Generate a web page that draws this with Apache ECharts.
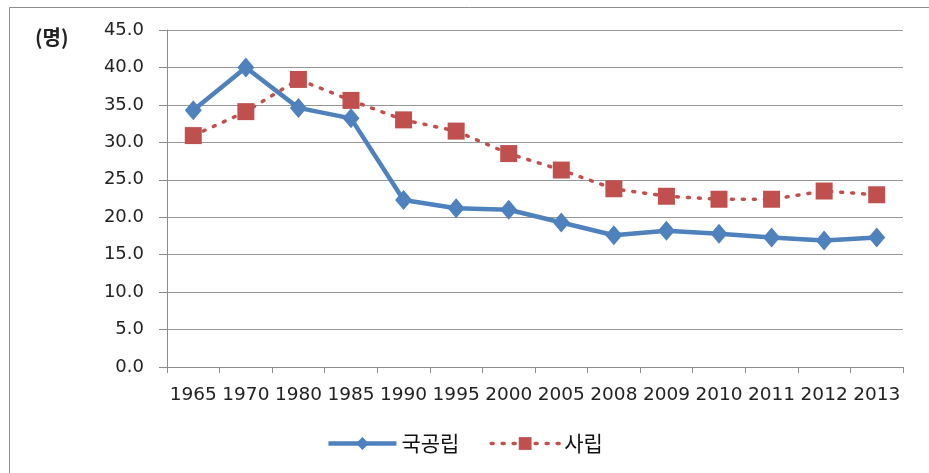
<!DOCTYPE html>
<html><head><meta charset="utf-8">
<script src="https://cdn.jsdelivr.net/npm/echarts@6/dist/echarts.min.js"></script>
<style>html,body{margin:0;padding:0;background:#fff}#c{width:929px;height:473px}</style>
</head><body><div id="c"></div>
<script>
const categories = ['1965','1970','1980','1985','1990','1995','2000','2005','2008','2009','2010','2011','2012','2013'];
const publicValues = [34.3, 40.0, 34.6, 33.2, 22.3, 21.2, 21.0, 19.3, 17.6, 18.2, 17.8, 17.3, 16.9, 17.3];
const privateValues = [30.9, 34.1, 38.4, 35.6, 33.0, 31.5, 28.5, 26.3, 23.8, 22.8, 22.4, 22.4, 23.5, 23.0];
const seriesNames = ['국공립', '사립'];
const unitLabel = '(명)';

const chart = echarts.init(document.getElementById('c'), null, {renderer: 'canvas'});
chart.setOption({
  animation: false,
  backgroundColor: '#fff',
  graphic: [
    {type: 'rect', shape: {x: 9.5, y: 7.5, width: 960, height: 500}, style: {fill: 'none', stroke: '#8c8c8c', lineWidth: 1}, silent: true},
    {type: 'text', left: 35, top: 27, style: {text: unitLabel, font: 'bold 20px "Noto Sans CJK KR", "DejaVu Sans"', fill: '#222'}}
  ],
  grid: {left: 167, top: 30, right: 26, bottom: 106},
  legend: {
    data: [
      {name: seriesNames[0], lineStyle: {width: 4.5}},
      {name: seriesNames[1], lineStyle: {width: 3.5}}
    ],
    bottom: 14,
    left: 'center',
    itemWidth: 68,
    itemHeight: 16,
    itemGap: 30,
    textStyle: {fontSize: 21, color: '#111', fontFamily: '"Noto Sans CJK KR", sans-serif'}
  },
  xAxis: {
    type: 'category',
    data: categories,
    boundaryGap: true,
    axisLine: {lineStyle: {color: '#8c8c8c', width: 1}},
    axisTick: {show: true, interval: 0, length: 6, lineStyle: {color: '#8c8c8c'}},
    axisLabel: {interval: 0, margin: 19, fontSize: 18.5, color: '#222', fontFamily: '"DejaVu Sans"'}
  },
  yAxis: {
    type: 'value',
    min: 0, max: 45, interval: 5,
    axisLine: {show: true, lineStyle: {color: '#8c8c8c', width: 1}},
    axisTick: {show: true, length: 8, lineStyle: {color: '#8c8c8c'}},
    splitLine: {lineStyle: {color: '#969696', width: 1}},
    axisLabel: {margin: 23, fontSize: 18, color: '#222', fontFamily: '"DejaVu Sans"', formatter: v => v.toFixed(1)}
  },
  series: [
    {
      name: seriesNames[0], type: 'line', data: publicValues,
      symbol: 'diamond', symbolSize: [17, 20],
      lineStyle: {color: '#4f81bd', width: 4.5},
      itemStyle: {color: '#4f81bd'}
    },
    {
      name: seriesNames[1], type: 'line', data: privateValues,
      symbol: 'rect', symbolSize: 17,
      lineStyle: {color: '#c0504d', width: 3.5, type: [2, 9], cap: 'round'},
      itemStyle: {color: '#c0504d'}
    }
  ]
});
</script></body></html>
